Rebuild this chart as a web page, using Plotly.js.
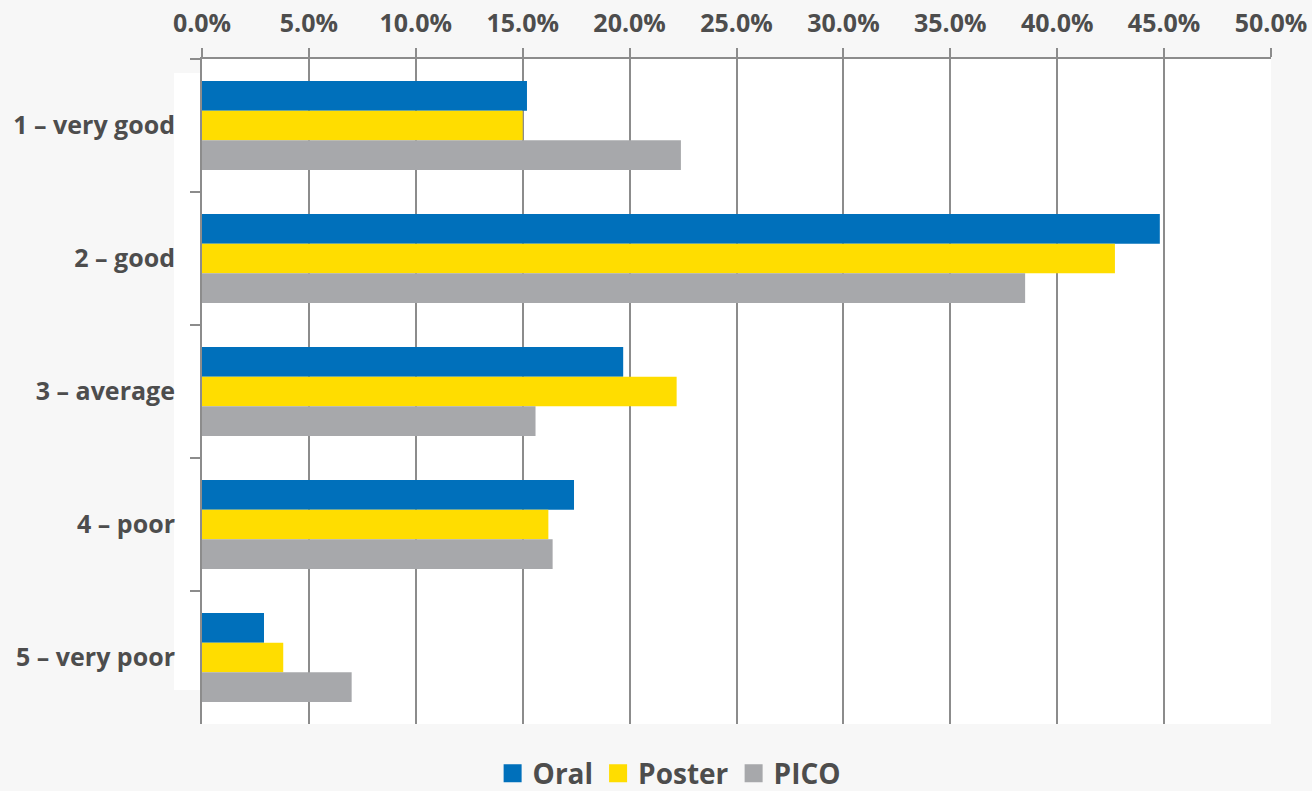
<!DOCTYPE html>
<html><head><meta charset="utf-8">
<script src="https://cdn.plot.ly/plotly-3.0.1.min.js"></script>
<style>html,body{margin:0;padding:0;background:#f7f7f7;}</style>
</head><body>
<div id="chart" style="width:1312px;height:791px;"></div>
<script>
const categories = ["1 – very good", "2 – good", "3 – average", "4 – poor", "5 – very poor"];
const oral   = [15.2, 44.8, 19.7, 17.4, 2.9];
const poster = [15.0, 42.7, 22.2, 16.2, 3.8];
const pico   = [22.4, 38.5, 15.6, 16.4, 7.0];
const seriesNames = ["Oral", "Poster", "PICO"];
const colors = ["#0070bb", "#ffdd00", "#a7a8ab"];

const font = {family: "Open Sans", size: 25, color: "#4d4d4d", weight: 700};
const bars = [oral, poster, pico].map((vals, i) => ({
  type: "bar", orientation: "h", name: seriesNames[i],
  y: categories, x: vals, marker: {color: colors[i]},
  showlegend: false, legendgroup: seriesNames[i]
}));
const legendItems = seriesNames.map((n, i) => ({
  type: "scatter", mode: "markers", name: n, legendgroup: n,
  x: [null], y: [null],
  marker: {symbol: "square", size: 18, color: colors[i], line: {width: 2, color: colors[i]}}
}));

const layout = {
  width: 1312, height: 791,
  paper_bgcolor: "#f7f7f7", plot_bgcolor: "#ffffff",
  margin: {l: 202, r: 41, t: 59, b: 67},
  barmode: "group", bargap: 0.33, bargroupgap: 0,
  font: font,
  xaxis: {
    side: "top", range: [0, 50], dtick: 5, tick0: 0,
    ticksuffix: "%", tickformat: ".1f",
    showgrid: true, gridcolor: "#8c8c8c", gridwidth: 2,
    showline: true, linecolor: "#8c8c8c", linewidth: 2,
    ticks: "outside", ticklen: 9, tickwidth: 2, tickcolor: "#8c8c8c",
    zeroline: false, tickfont: font, ticklabelstandoff: 6, fixedrange: true
  },
  yaxis: {
    autorange: "reversed", type: "category",
    showline: true, linecolor: "#8c8c8c", linewidth: 2,
    ticks: "outside", tickson: "boundaries", ticklen: 10, tickwidth: 2, tickcolor: "#8c8c8c",
    showgrid: false, tickfont: font, ticklabelstandoff: 20, fixedrange: true
  },
  legend: {
    orientation: "h", xref: "container", x: 0.51, xanchor: "center",
    yref: "container", y: 0.022, yanchor: "middle",
    font: {family: "Open Sans", size: 28, color: "#4d4d4d", weight: 700},
    traceorder: "normal", bgcolor: "rgba(0,0,0,0)", itemsizing: "trace"
  },
  shapes: [{
    type: "rect", xref: "paper", yref: "paper", layer: "below",
    x0: -28/1069, x1: 0, y0: (724-690)/665, y1: (724-73)/665,
    fillcolor: "#ffffff", line: {width: 0}
  }],
  showlegend: true
};
Plotly.newPlot("chart", bars.concat(legendItems), layout, {displayModeBar: false, staticPlot: true});
</script>
</body></html>
